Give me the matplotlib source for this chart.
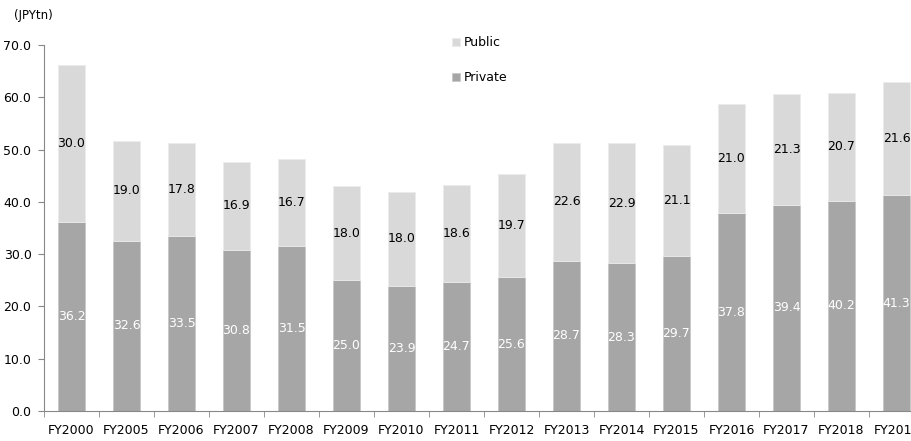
import matplotlib
matplotlib.use("Agg")
import matplotlib.pyplot as plt
import numpy as np

categories = ["FY2000", "FY2005", "FY2006", "FY2007", "FY2008", "FY2009", "FY2010",
              "FY2011", "FY2012", "FY2013", "FY2014", "FY2015", "FY2016", "FY2017",
              "FY2018", "FY2019"]
private = [36.2, 32.6, 33.5, 30.8, 31.5, 25.0, 23.9, 24.7, 25.6, 28.7, 28.3, 29.7,
           37.8, 39.4, 40.2, 41.3]
public = [30.0, 19.0, 17.8, 16.9, 16.7, 18.0, 18.0, 18.6, 19.7, 22.6, 22.9, 21.1,
          21.0, 21.3, 20.7, 21.6]
yticks = [0, 10, 20, 30, 40, 50, 60, 70]

plt.rcParams['font.family'] = ['DejaVu Sans']

fig = plt.figure(figsize=(9.12, 4.41), dpi=100)
ax = fig.add_axes([44/912, 1-411/441, 1-44/912, (411-45)/441])

x = np.arange(len(categories))
c_priv = "#A6A6A6"
c_pub = "#D9D9D9"
b1 = ax.bar(x, private, width=0.5, color=c_priv, label="Private", edgecolor="#C8C8C8", linewidth=0.6)
b2 = ax.bar(x, public, width=0.5, bottom=private, color=c_pub, label="Public", edgecolor="#EBEBEB", linewidth=0.6)

fs = 9
ax.bar_label(b1, labels=[f"{v:.1f}" for v in private], label_type="center", color="white", fontsize=fs)
ax.bar_label(b2, labels=[f"{v:.1f}" for v in public], label_type="center", color="black", fontsize=fs)

ax.set_ylim(0, 70)
ax.set_xlim(-0.5, (912-44)/55 - 0.5)
ax.set_yticks(yticks)
ax.set_yticklabels([f"{v:.1f}" for v in yticks], fontsize=fs)
ax.set_xticks(x)
ax.set_xticklabels(categories, fontsize=fs)
ax.set_xticks(np.arange(len(categories)) - 0.5, minor=True)
ax.tick_params(axis="x", which="major", length=0, pad=9)
ax.tick_params(axis="x", which="minor", length=4, color="#888888")
ax.tick_params(axis="y", length=4, color="#888888", pad=5)

for s in ["top", "right"]:
    ax.spines[s].set_visible(False)
for s in ["left", "bottom"]:
    ax.spines[s].set_color("#888888")
    ax.spines[s].set_linewidth(0.8)

handles = [b2, b1]
leg = ax.legend(handles, ["Public", "Private"], loc="upper left",
                bbox_to_anchor=((441-44)/(912-44), 1.055), frameon=False,
                handlelength=0.6, handleheight=0.6, handletextpad=0.3,
                labelspacing=1.75, fontsize=fs)

fig.text(14/912, 1-15/441, "(JPYtn)", fontsize=8.5, va="center", ha="left")

fig.savefig("out.png", dpi=100)
